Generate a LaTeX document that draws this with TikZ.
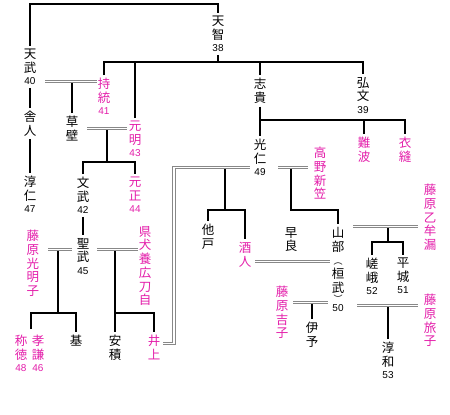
\documentclass[tikz,border=0pt]{standalone}
\usepackage{fontspec}
\newfontfamily\cjk{Noto Sans CJK JP}
\newfontfamily\numf{Liberation Sans}
\usetikzlibrary{calc}
\definecolor{mag}{RGB}{228,30,170}
\definecolor{dgray}{RGB}{136,136,136}
\newcommand\nb[1]{{\numf\fontsize{10}{12}\selectfont #1}}
\newcommand\smp[1]{{\fontsize{9}{9}\selectfont #1}}
\tikzset{
  person/.style={anchor=north, align=center, inner xsep=0pt, inner ysep=3pt,
    font=\cjk\fontsize{12.5}{13.7}\selectfont},
  pink/.style={text=mag},
  ln/.style={line width=1.3pt},
  dbl/.style={draw=dgray, double=white, line width=0.9pt, double distance=1.8pt}
}
\begin{document}
\begin{tikzpicture}[x=1pt,y=-1pt]
\useasboundingbox[fill=white] (0,0) rectangle (450,415);
% persons
\node[person] (tenchi) at (218,13) {天\\智\\[-1.5pt]\nb{38}};
\node[person] (tenmu) at (30,46) {天\\武\\[-1.5pt]\nb{40}};
\node[person,pink] (jito) at (104,75) {持\\統\\[-1.5pt]\nb{41}};
\node[person] (toneri) at (30,108) {舎\\人};
\node[person] (kusakabe) at (72,113) {草\\壁};
\node[person,pink] (genmei) at (135,118) {元\\明\\[-1.5pt]\nb{43}};
\node[person] (junnin) at (30,173) {淳\\仁\\[-1.5pt]\nb{47}};
\node[person] (monmu) at (83,174) {文\\武\\[-1.5pt]\nb{42}};
\node[person,pink] (gensho) at (135,174) {元\\正\\[-1.5pt]\nb{44}};
\node[person] (shomu) at (83,235) {聖\\武\\[-1.5pt]\nb{45}};
\node[person,pink] (komyo) at (33,227) {藤\\原\\光\\明\\子};
\node[person,pink] (agata) at (145,223) {県\\犬\\養\\広\\刀\\自};
\node[person,pink] (shotoku) at (21,332) {称\\徳\\[-1.5pt]\nb{48}};
\node[person,pink] (koken) at (38,332) {孝\\謙\\[-1.5pt]\nb{46}};
\node[person] (moto) at (76,332) {基};
\node[person] (asaka) at (115,332) {安\\積};
\node[person,pink] (inoue) at (154,332) {井\\上};
\node[person] (shiki) at (260,75) {志\\貴};
\node[person] (kobun) at (363,74) {弘\\文\\[-1.5pt]\nb{39}};
\node[person] (konin) at (260,136) {光\\仁\\[-1.5pt]\nb{49}};
\node[person,pink] (nanba) at (364,134) {難\\波};
\node[person,pink] (kinunui) at (405,134) {衣\\縫};
\node[person,pink] (takano) at (320,144) {高\\野\\新\\笠};
\node[person] (osabe) at (208,221) {他\\戸};
\node[person,pink] (sakahito) at (245,239) {酒\\人};
\node[person] (sawara) at (291,224) {早\\良};
\node[person] (yamabe) at (338,224) {山\\部\\\smp{︵}\\桓\\武\\[-3pt]\smp{︶}\\[-5pt]\nb{50}};
\node[person,pink] (otomuro) at (430,181) {藤\\原\\乙\\牟\\漏};
\node[person] (saga) at (372,255) {嵯\\峨\\[-1.5pt]\nb{52}};
\node[person] (heizei) at (403,255) {平\\城\\[-1.5pt]\nb{51}};
\node[person,pink] (yoshiko) at (282,283) {藤\\原\\吉\\子};
\node[person] (iyo) at (312,319) {伊\\予};
\node[person,pink] (tabiko) at (430,291) {藤\\原\\旅\\子};
\node[person] (junna) at (388,339) {淳\\和\\[-1.5pt]\nb{53}};
% junction coordinates
\coordinate (top) at (0,4);
\coordinate (jA) at (0,62);
\coordinate (dA1) at (45,81.5); \coordinate (dA2) at (97,81.5);
\coordinate (dB1) at (87,128.5); \coordinate (dB2) at (127,128.5);
\coordinate (jB) at (107,162);
\coordinate (dC1) at (48,249.5); \coordinate (dC2) at (72,249.5);
\coordinate (jC) at (58,313); \coordinate (kk) at (31,329);
\coordinate (dD1) at (97,249.5); \coordinate (dD2) at (138,249.5);
\coordinate (jD) at (115,313);
\coordinate (dE1) at (163,343.5); \coordinate (dE2) at (250,167.5); \coordinate (cE) at (174,0);
\coordinate (jF) at (225,210);
\coordinate (dG1) at (278,167.5); \coordinate (dG2) at (308,167.5);
\coordinate (jG) at (291,210);
\coordinate (jH) at (260,120);
\coordinate (dI1) at (353,226.5); \coordinate (dI2) at (418,226.5);
\coordinate (jI) at (388,242);
\coordinate (dJ1) at (255,261.5); \coordinate (dJ2) at (330,261.5);
\coordinate (dK1) at (293,302.5); \coordinate (dK2) at (328,302.5);
\coordinate (dL1) at (357,305.5); \coordinate (dL2) at (418,305.5);
% single lines
\draw[ln] (tenmu.north) -- (tenmu.north |- top) -| (tenchi.north);
\draw[ln] (tenchi.south) -- (tenchi.south |- jA);
\draw[ln] (jito.north) |- (kobun.north |- jA) -- (kobun.north);
\draw[ln] (genmei.north) -- (genmei.north |- jA);
\draw[ln] (shiki.north) -- (shiki.north |- jA);
\draw[ln] (tenmu.south) -- (toneri.north);
\draw[ln] (toneri.south) -- (junnin.north);
\draw[ln] (kusakabe.north) -- (kusakabe.north |- dA1);
\draw[ln] (jB |- dB1) -- (jB);
\draw[ln] (monmu.north) |- (jB) -| (gensho.north);
\draw[ln] (monmu.south) -- (shomu.north);
\draw[ln] (jC |- dC1) -- (jC);
\draw[ln] (kk) |- (jC) -| (moto.north);
\draw[ln] (jD |- dD1) -- (asaka.north);
\draw[ln] (jD) -| (inoue.north);
\draw[ln] (jF |- dE2) -- (jF);
\draw[ln] (osabe.north) |- (jF) -| (sakahito.north);
\draw[ln] (jG |- dG1) -- (jG) -| (yamabe.north);
\draw[ln] (shiki.south) -- (konin.north);
\draw[ln] (jH) -| (kinunui.north);
\draw[ln] (nanba.north) -- (nanba.north |- jH);
\draw[ln] (jI |- dI1) -- (jI);
\draw[ln] (saga.north) |- (jI) -| (heizei.north);
\draw[ln] (iyo.north) -- (iyo.north |- dK1);
\draw[ln] (junna.north) -- (junna.north |- dL1);
% double lines
\draw[dbl] (dA1) -- (dA2);
\draw[dbl] (dB1) -- (dB2);
\draw[dbl] (dC1) -- (dC2);
\draw[dbl] (dD1) -- (dD2);
\draw[dbl] (dE1) -- (dE1 -| cE) -- (dE2 -| cE) -- (dE2);
\draw[dbl] (dG1) -- (dG2);
\draw[dbl] (dI1) -- (dI2);
\draw[dbl] (dJ1) -- (dJ2);
\draw[dbl] (dK1) -- (dK2);
\draw[dbl] (dL1) -- (dL2);
\end{tikzpicture}
\end{document}
